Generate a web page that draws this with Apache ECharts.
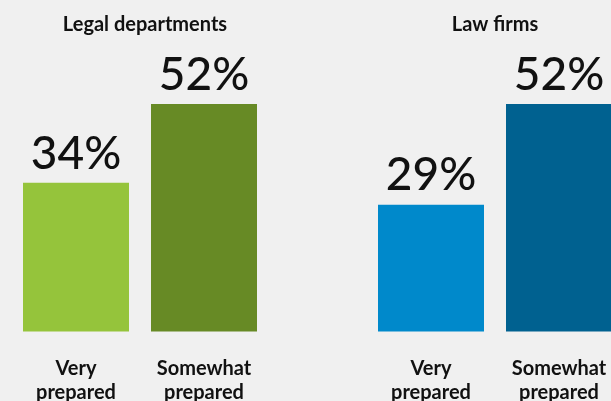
<!DOCTYPE html>
<html><head><meta charset="utf-8">
<script src="https://cdn.jsdelivr.net/npm/echarts@6/dist/echarts.min.js"></script>
<style>html,body{margin:0;padding:0;background:#f0f0f0}#c{width:611px;height:401px}</style>
</head><body><div id="c"></div>
<script>
const panelTitles = ['Legal departments', 'Law firms'];
const categories = ['Very\nprepared', 'Somewhat\nprepared'];
const legalValues = [34, 52];
const lawFirmValues = [29, 52];
const legalColors = ['#95c43b', '#678a25'];
const lawColors = ['#0089cb', '#006190'];

const chart = echarts.init(document.getElementById('c'));
const FONT = 'Lato';
const gridTop = 104, gridHeight = 227.5;
const grids = [
  {left: 12, top: gridTop, width: 256, height: gridHeight, outerBoundsMode: 'none', containLabel: false},
  {left: 367, top: gridTop, width: 256, height: gridHeight, outerBoundsMode: 'none', containLabel: false}
];
const mkX = (i) => ({
  type: 'category', gridIndex: i, data: categories,
  axisLine: {show: false}, axisTick: {show: false}, splitLine: {show: false},
  axisLabel: {color: '#111', fontFamily: FONT, fontWeight: 'bold', fontSize: 20, lineHeight: 24, margin: 25, interval: 0, hideOverlap: false}
});
const mkY = (i) => ({type: 'value', gridIndex: i, min: 0, max: 52, show: false, splitLine: {show: false}});
const mkS = (i, vals, cols) => ({
  type: 'bar', xAxisIndex: i, yAxisIndex: i, barWidth: 106,
  data: vals.map((v, k) => ({value: v, itemStyle: {color: cols[k]}})),
  label: {show: true, position: 'top', distance: 6, formatter: '{c}%', color: '#111', fontFamily: FONT, fontSize: 46, fontWeight: 500},
  silent: true
});
chart.setOption({
  backgroundColor: '#f0f0f0',
  animation: false,
  title: [
    {text: panelTitles[0], left: 140, top: 10, textAlign: 'center', textStyle: {fontFamily: FONT, fontWeight: 'bold', fontSize: 20, color: '#111'}},
    {text: panelTitles[1], left: 490, top: 10, textAlign: 'center', textStyle: {fontFamily: FONT, fontWeight: 'bold', fontSize: 20, color: '#111'}}
  ],
  grid: grids,
  xAxis: [mkX(0), mkX(1)],
  yAxis: [mkY(0), mkY(1)],
  series: [mkS(0, legalValues, legalColors), mkS(1, lawFirmValues, lawColors)]
});
</script></body></html>
